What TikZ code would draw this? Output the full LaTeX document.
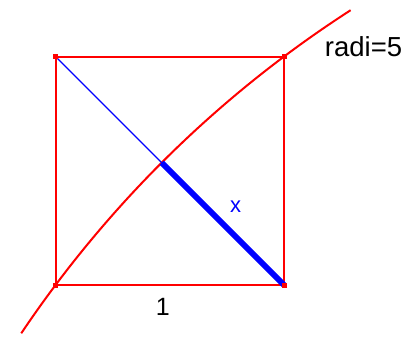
\documentclass[tikz,border=0pt]{standalone}
\usepackage{fontspec}
\setmainfont{Liberation Sans}
\usepackage{tikz}
\begin{document}
\begin{tikzpicture}[x=228.5pt, y=228.5pt,
  side/.style={draw=red, line width=2pt},
  corner/.style={rectangle, fill=red, inner sep=0pt, minimum size=5pt},
  thin/.style={draw=blue, line width=1.3pt},
  fat/.style={draw=blue, line width=6pt},
  lbl/.style={inner sep=0pt, font=\fontsize{#1}{#1}\selectfont},
  lbl/.default=25]
\useasboundingbox (-0.2429,-0.2232) rectangle (1.547,1.2473);
\coordinate (ctr) at (4,-3);
\coordinate (bl) at (0,0);
\coordinate (br) at (1,0);
\coordinate (tr) at (1,1);
\coordinate (tl) at (0,1);
\coordinate (cut) at (0.46447,0.53553);
\draw[side] (bl) -- (br) -- (tr) -- (tl) -- cycle;
\draw[side] (ctr) ++(146.1:5) arc[start angle=146.1, end angle=122.8, radius=5];
\draw[thin] (tl) -- (cut);
\draw[fat] (cut) -- (br);
\foreach \c in {bl,br,tr,tl}
  \node[corner] at (\c) {};
\node[lbl=27.5] (radius) at (1.348,1.0416) {radi=5};
\node[lbl] (one) at (0.470,-0.096) {1};
\node[lbl=22, text=blue] (len) at (0.788,0.341) {x};
\end{tikzpicture}
\end{document}
